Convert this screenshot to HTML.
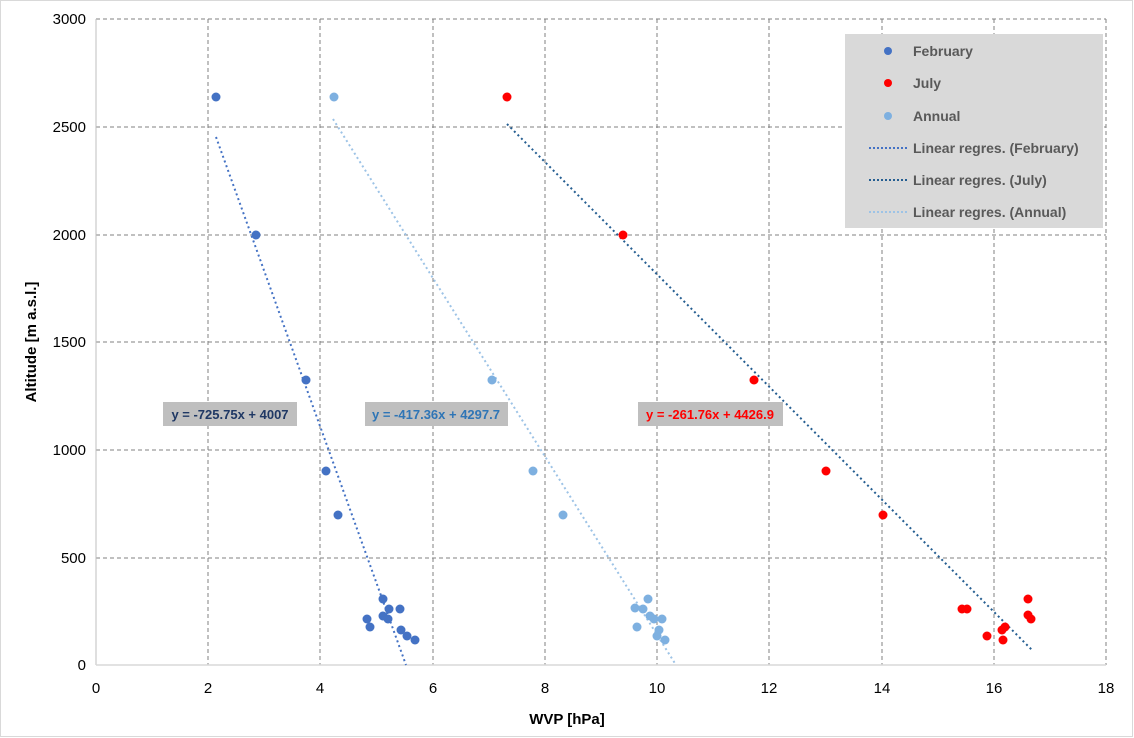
<!DOCTYPE html>
<html><head><meta charset="utf-8"><style>
html,body{margin:0;padding:0;background:#fff;}
svg{display:block;font-family:"Liberation Sans",sans-serif;}
</style></head><body>
<svg width="1134" height="738" viewBox="0 0 1134 738" xmlns="http://www.w3.org/2000/svg">
<rect x="0.5" y="0.5" width="1132" height="736" fill="#fff" stroke="#d9d9d9"/>
<g stroke="#808080" stroke-width="1" stroke-dasharray="4,3" fill="none">
<line x1="96" y1="19" x2="1106" y2="19"/>
<line x1="96" y1="127" x2="1106" y2="127"/>
<line x1="96" y1="235" x2="1106" y2="235"/>
<line x1="96" y1="342" x2="1106" y2="342"/>
<line x1="96" y1="450" x2="1106" y2="450"/>
<line x1="96" y1="558" x2="1106" y2="558"/>
<line x1="208" y1="19" x2="208" y2="665"/>
<line x1="320" y1="19" x2="320" y2="665"/>
<line x1="433" y1="19" x2="433" y2="665"/>
<line x1="545" y1="19" x2="545" y2="665"/>
<line x1="657" y1="19" x2="657" y2="665"/>
<line x1="769" y1="19" x2="769" y2="665"/>
<line x1="882" y1="19" x2="882" y2="665"/>
<line x1="994" y1="19" x2="994" y2="665"/>
<line x1="1106" y1="19" x2="1106" y2="665"/>
</g>
<line x1="96" y1="19" x2="96" y2="665" stroke="#bfbfbf"/>
<line x1="96" y1="665" x2="1106" y2="665" stroke="#d9d9d9" stroke-width="1.5"/>
<g font-size="15" fill="#000" text-anchor="end">
<text x="86" y="24">3000</text><text x="86" y="132">2500</text><text x="86" y="240">2000</text>
<text x="86" y="347">1500</text><text x="86" y="455">1000</text><text x="86" y="563">500</text><text x="86" y="670">0</text>
</g>
<g font-size="15" fill="#000" text-anchor="middle">
<text x="96" y="693">0</text><text x="208" y="693">2</text><text x="320" y="693">4</text><text x="433" y="693">6</text>
<text x="545" y="693">8</text><text x="657" y="693">10</text><text x="769" y="693">12</text><text x="882" y="693">14</text>
<text x="994" y="693">16</text><text x="1106" y="693">18</text>
</g>
<text x="567" y="724" font-size="15" font-weight="bold" text-anchor="middle" fill="#000">WVP [hPa]</text>
<text transform="translate(36,342) rotate(-90)" font-size="15" font-weight="bold" text-anchor="middle" fill="#000">Altitude [m a.s.l.]</text>
<g stroke-width="2" stroke-dasharray="2,3" fill="none">
<line x1="216" y1="137" x2="406" y2="665" stroke="#4472c4"/>
<line x1="333" y1="119" x2="676" y2="665" stroke="#9dc3e6"/>
<line x1="507" y1="124" x2="1032" y2="650" stroke="#255e91"/>
</g>
<g fill="#4472c4">
<circle cx="216" cy="97" r="4.5"/><circle cx="256" cy="235" r="4.5"/><circle cx="306" cy="380" r="4.5"/>
<circle cx="326" cy="471" r="4.5"/><circle cx="338" cy="515" r="4.5"/><circle cx="383" cy="599" r="4.5"/>
<circle cx="389" cy="609" r="4.5"/><circle cx="400" cy="609" r="4.5"/><circle cx="367" cy="619" r="4.5"/>
<circle cx="383" cy="616" r="4.5"/><circle cx="388" cy="619" r="4.5"/><circle cx="370" cy="627" r="4.5"/>
<circle cx="401" cy="630" r="4.5"/><circle cx="407" cy="636" r="4.5"/><circle cx="415" cy="640" r="4.5"/>
</g>
<g fill="#7eb0e0">
<circle cx="334" cy="97" r="4.5"/><circle cx="492" cy="380" r="4.5"/><circle cx="533" cy="471" r="4.5"/>
<circle cx="563" cy="515" r="4.5"/><circle cx="635" cy="608" r="4.5"/><circle cx="648" cy="599" r="4.5"/>
<circle cx="643" cy="609" r="4.5"/><circle cx="650" cy="616" r="4.5"/><circle cx="654" cy="619" r="4.5"/>
<circle cx="662" cy="619" r="4.5"/><circle cx="637" cy="627" r="4.5"/><circle cx="659" cy="630" r="4.5"/>
<circle cx="657" cy="636" r="4.5"/><circle cx="665" cy="640" r="4.5"/>
</g>
<g fill="#ff0000">
<circle cx="507" cy="97" r="4.5"/><circle cx="623" cy="235" r="4.5"/><circle cx="754" cy="380" r="4.5"/>
<circle cx="826" cy="471" r="4.5"/><circle cx="883" cy="515" r="4.5"/><circle cx="962" cy="609" r="4.5"/>
<circle cx="967" cy="609" r="4.5"/><circle cx="987" cy="636" r="4.5"/><circle cx="1002" cy="630" r="4.5"/>
<circle cx="1005" cy="627" r="4.5"/><circle cx="1003" cy="640" r="4.5"/><circle cx="1028" cy="599" r="4.5"/>
<circle cx="1028" cy="615" r="4.5"/><circle cx="1031" cy="619" r="4.5"/>
</g>
<g font-size="13" font-weight="bold">
<rect x="163" y="402" width="134" height="24" fill="#bfbfbf"/>
<text x="230" y="419" text-anchor="middle" fill="#1f3864">y = -725.75x + 4007</text>
<rect x="365" y="402" width="143" height="24" fill="#bfbfbf"/>
<text x="436" y="419" text-anchor="middle" fill="#2e75b6">y = -417.36x + 4297.7</text>
<rect x="638" y="402" width="145" height="24" fill="#bfbfbf"/>
<text x="710" y="419" text-anchor="middle" fill="#ff0000">y = -261.76x + 4426.9</text>
</g>
<rect x="845" y="34" width="258" height="194" fill="#d9d9d9"/>
<g font-size="14" fill="#595959" font-weight="bold">
<circle cx="888" cy="51" r="4" fill="#4472c4"/><text x="913" y="56">February</text>
<circle cx="888" cy="83" r="4" fill="#ff0000"/><text x="913" y="88">July</text>
<circle cx="888" cy="116" r="4" fill="#7eb0e0"/><text x="913" y="121">Annual</text>
<text x="913" y="153">Linear regres. (February)</text>
<text x="913" y="185">Linear regres. (July)</text>
<text x="913" y="217">Linear regres. (Annual)</text>
</g>
<g stroke-width="2" stroke-dasharray="2,2">
<line x1="869" y1="148" x2="907" y2="148" stroke="#4472c4"/>
<line x1="869" y1="180" x2="907" y2="180" stroke="#255e91"/>
<line x1="869" y1="212" x2="907" y2="212" stroke="#9dc3e6"/>
</g>
</svg>
</body></html>
